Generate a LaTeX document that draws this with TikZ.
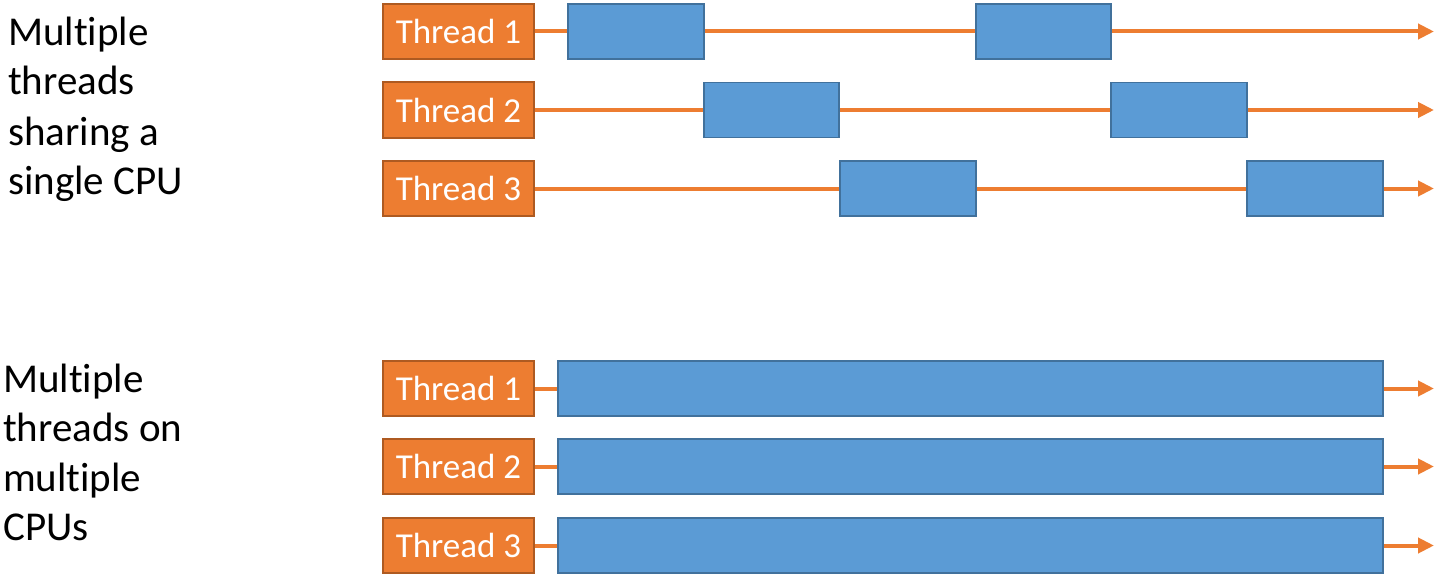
\documentclass[tikz,border=0pt]{standalone}
\usepackage{fontspec}
\setmainfont[RawFeature=-liga]{Carlito}
\usetikzlibrary{arrows.meta}
\definecolor{thrfill}{HTML}{ED7D31}
\definecolor{thrdraw}{HTML}{AE5A21}
\definecolor{cpufill}{HTML}{5B9BD5}
\definecolor{cpudraw}{HTML}{41719C}
\tikzset{
  thr/.style={draw=thrdraw, fill=thrfill, line width=2pt, minimum width=151pt, minimum height=55pt, inner sep=0pt, text=white, font=\fontsize{35}{40}\selectfont},
  cpu/.style={draw=cpudraw, fill=cpufill, line width=1.5pt, minimum height=55pt, inner sep=0pt},
  tl/.style={draw=thrfill, line width=4pt, -{Triangle[length=16pt,width=15pt]}},
  lbl/.style={anchor=base west, inner sep=0pt, font=\fontsize{41}{49}\selectfont}
}
\begin{document}
\begin{tikzpicture}[x=1pt,y=-1pt]
\useasboundingbox (0,0) rectangle (1438,578);
% left labels
\node[lbl] (a1) at (8,46) {Multiple};
\node[lbl] (a2) at (8,95) {threads};
\node[lbl] (a3) at (8,145) {sharing a};
\node[lbl] (a4) at (8,194) {single CPU};
\node[lbl] (b1) at (3,392) {Multiple};
\node[lbl] (b2) at (3,441) {threads on};
\node[lbl] (b3) at (3,491) {multiple};
\node[lbl] (b4) at (3,540) {CPUs};
% top threads
\node[thr] (t1) at (458.5,31.5) {Thread 1};
\node[thr] (t2) at (458.5,110) {Thread 2};
\node[thr] (t3) at (458.5,188.5) {Thread 3};
\coordinate (e1) at (1434,31.5);
\coordinate (e2) at (1434,110);
\coordinate (e3) at (1434,188.5);
\draw[tl] (t1.east) -- (e1);
\draw[tl] (t2.east) -- (e2);
\draw[tl] (t3.east) -- (e3);
\node[cpu, minimum width=136pt] (c11) at (636,31.5) {};
\node[cpu, minimum width=135pt] (c12) at (1043.5,31.5) {};
\node[cpu, minimum width=135pt] (c21) at (771.5,110) {};
\node[cpu, minimum width=136pt] (c22) at (1179,110) {};
\node[cpu, minimum width=136pt] (c31) at (908,188.5) {};
\node[cpu, minimum width=136pt] (c32) at (1315,188.5) {};
% bottom threads
\node[thr] (u1) at (458.5,388.5) {Thread 1};
\node[thr] (u2) at (458.5,466.5) {Thread 2};
\node[thr] (u3) at (458.5,545.5) {Thread 3};
\coordinate (f1) at (1434,388.5);
\coordinate (f2) at (1434,466.5);
\coordinate (f3) at (1434,545.5);
\draw[tl] (u1.east) -- (f1);
\draw[tl] (u2.east) -- (f2);
\draw[tl] (u3.east) -- (f3);
\node[cpu, minimum width=825pt] (d1) at (970.5,388.5) {};
\node[cpu, minimum width=825pt] (d2) at (970.5,466.5) {};
\node[cpu, minimum width=825pt] (d3) at (970.5,545.5) {};
\end{tikzpicture}
\end{document}
